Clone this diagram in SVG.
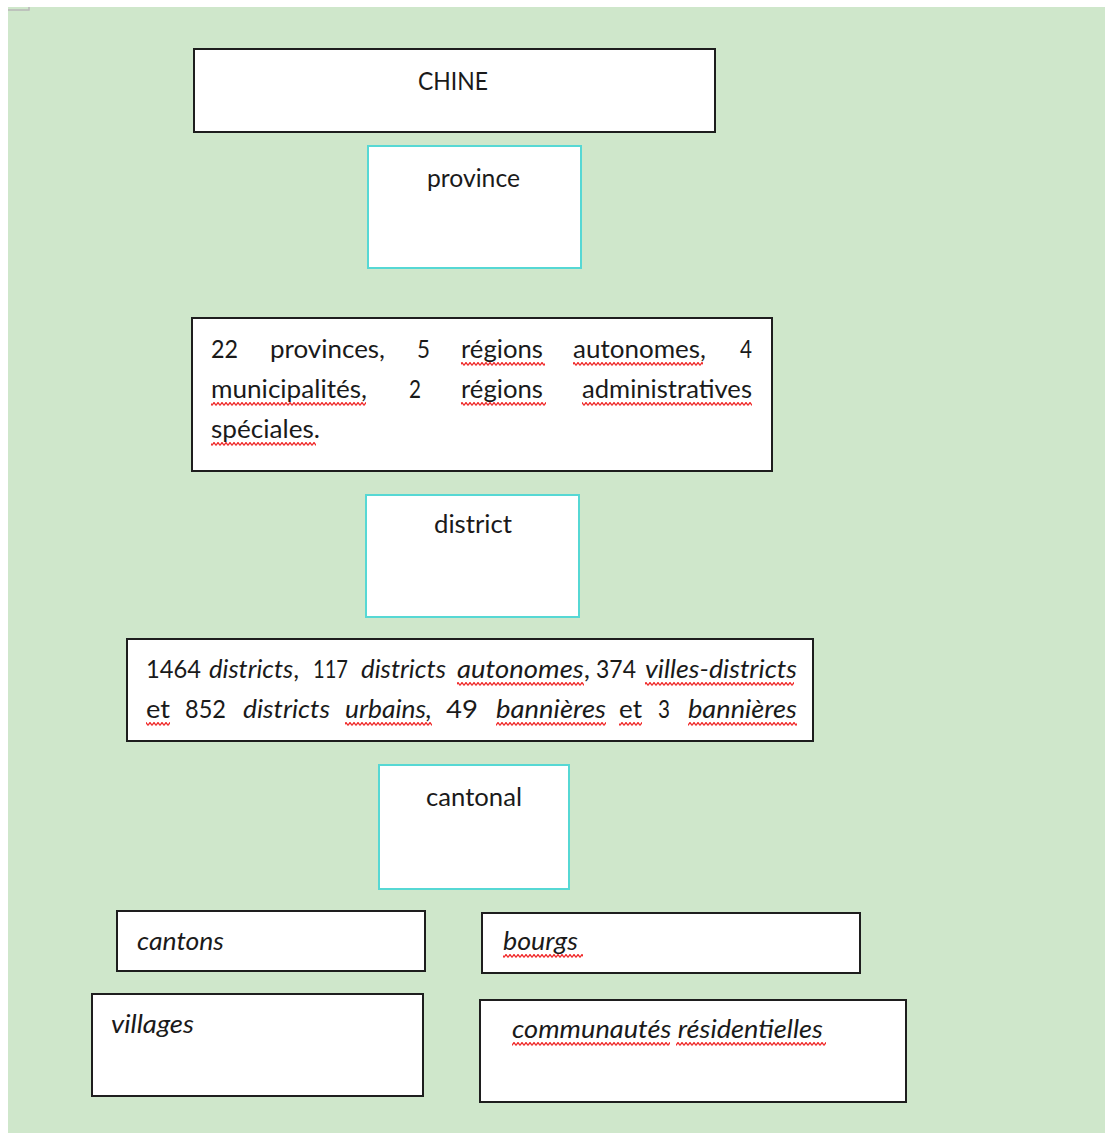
<svg xmlns="http://www.w3.org/2000/svg" width="1105" height="1133" viewBox="0 0 1105 1133">
<style>
.bg{fill:#cfe7cb}
.box{fill:#ffffff;stroke:#1e1e1e;stroke-width:2}
.cyan{fill:#ffffff;stroke:#56d8d4;stroke-width:2}
text{font-family:Lato,"Open Sans","Liberation Sans",sans-serif;font-size:25px;fill:#1a1a1a}
.it{font-style:italic}
.wave{fill:url(#wave)}
</style>
<defs>
<pattern id="wave" patternUnits="userSpaceOnUse" x="0" y="2" width="4" height="4">
<path d="M0,3.5 L2,0.5 L4,3.5" fill="none" stroke="#f02a2a" stroke-width="1.3"/>
</pattern>
</defs>
<rect x="0" y="0" width="1105" height="1133" fill="#ffffff"/>
<rect class="bg" x="8" y="7" width="1097" height="1126"/>
<path d="M8,10 H29 V7" fill="none" stroke="#b8b8b8" stroke-width="1.5"/>

<g id="connectors"></g>

<g id="chine">
<rect class="box" x="194" y="49" width="521" height="83"/>
<text x="418" y="90" textLength="70" lengthAdjust="spacingAndGlyphs">CHINE</text>
</g>

<g id="province">
<rect class="cyan" x="368" y="146" width="213" height="122"/>
<text x="427" y="187" textLength="93" lengthAdjust="spacingAndGlyphs">province</text>
</g>

<g id="provinces-list">
<rect class="box" x="192" y="318" width="580" height="153"/>
<text x="211" y="358" textLength="27" lengthAdjust="spacingAndGlyphs">22</text>
<text x="270" y="358" textLength="115" lengthAdjust="spacingAndGlyphs">provinces,</text>
<text x="417" y="358" textLength="13" lengthAdjust="spacingAndGlyphs">5</text>
<text x="461" y="358" textLength="82" lengthAdjust="spacingAndGlyphs">régions</text>
<text x="573" y="358" textLength="133" lengthAdjust="spacingAndGlyphs">autonomes,</text>
<text x="740" y="358" textLength="12" lengthAdjust="spacingAndGlyphs">4</text>
<text x="211" y="398" textLength="156" lengthAdjust="spacingAndGlyphs">municipalités,</text>
<text x="409" y="398" textLength="12" lengthAdjust="spacingAndGlyphs">2</text>
<text x="461" y="398" textLength="82" lengthAdjust="spacingAndGlyphs">régions</text>
<text x="582" y="398" textLength="170" lengthAdjust="spacingAndGlyphs">administratives</text>
<text x="211" y="438" textLength="109" lengthAdjust="spacingAndGlyphs">spéciales.</text>
<rect class="wave" x="461" y="362" width="84" height="4"/>
<rect class="wave" x="573" y="362" width="130" height="4"/>
<rect class="wave" x="211" y="402" width="155" height="4"/>
<rect class="wave" x="461" y="402" width="85" height="4"/>
<rect class="wave" x="582" y="402" width="170" height="4"/>
<rect class="wave" x="211" y="442" width="105" height="4"/>
</g>

<g id="district">
<rect class="cyan" x="366" y="495" width="213" height="122"/>
<text x="434" y="533" textLength="78" lengthAdjust="spacingAndGlyphs">district</text>
</g>

<g id="districts-list">
<rect class="box" x="127" y="639" width="686" height="102"/>
<text x="146" y="678" textLength="55" lengthAdjust="spacingAndGlyphs">1464</text>
<text x="209" y="678" textLength="90" lengthAdjust="spacingAndGlyphs"><tspan class="it">districts</tspan>,</text>
<text x="313" y="678" textLength="35" lengthAdjust="spacingAndGlyphs">117</text>
<text class="it" x="361" y="678" textLength="85" lengthAdjust="spacingAndGlyphs">districts</text>
<text x="457" y="678" textLength="133" lengthAdjust="spacingAndGlyphs"><tspan class="it">autonomes</tspan>,</text>
<text x="596" y="678" textLength="40" lengthAdjust="spacingAndGlyphs">374</text>
<text class="it" x="645" y="678" textLength="152" lengthAdjust="spacingAndGlyphs">villes-districts</text>
<text x="146" y="718" textLength="24" lengthAdjust="spacingAndGlyphs">et</text>
<text x="185" y="718" textLength="41" lengthAdjust="spacingAndGlyphs">852</text>
<text class="it" x="243" y="718" textLength="87" lengthAdjust="spacingAndGlyphs">districts</text>
<text class="it" x="345" y="718" textLength="87" lengthAdjust="spacingAndGlyphs">urbains,</text>
<text x="446" y="718" textLength="32" lengthAdjust="spacingAndGlyphs">49</text>
<text class="it" x="496" y="718" textLength="110" lengthAdjust="spacingAndGlyphs">bannières</text>
<text x="619" y="718" textLength="23" lengthAdjust="spacingAndGlyphs">et</text>
<text x="658" y="718" textLength="12" lengthAdjust="spacingAndGlyphs">3</text>
<text class="it" x="688" y="718" textLength="109" lengthAdjust="spacingAndGlyphs">bannières</text>
<rect class="wave" x="457" y="682" width="127" height="4"/>
<rect class="wave" x="645" y="682" width="149" height="4"/>
<rect class="wave" x="146" y="722" width="24" height="4"/>
<rect class="wave" x="345" y="722" width="87" height="4"/>
<rect class="wave" x="496" y="722" width="110" height="4"/>
<rect class="wave" x="619" y="722" width="23" height="4"/>
<rect class="wave" x="688" y="722" width="109" height="4"/>
</g>

<g id="cantonal">
<rect class="cyan" x="379" y="765" width="190" height="124"/>
<text x="426" y="806" textLength="96" lengthAdjust="spacingAndGlyphs">cantonal</text>
</g>

<g id="cantons">
<rect class="box" x="117" y="911" width="308" height="60"/>
<text class="it" x="137" y="950" textLength="87" lengthAdjust="spacingAndGlyphs">cantons</text>
</g>

<g id="bourgs">
<rect class="box" x="482" y="913" width="378" height="60"/>
<text class="it" x="503" y="950" textLength="75" lengthAdjust="spacingAndGlyphs">bourgs</text>
<rect class="wave" x="503" y="954" width="80" height="4"/>
</g>

<g id="villages">
<rect class="box" x="92" y="994" width="331" height="102"/>
<text class="it" x="111" y="1033" textLength="83" lengthAdjust="spacingAndGlyphs">villages</text>
</g>

<g id="communautes">
<rect class="box" x="480" y="1000" width="426" height="102"/>
<text class="it" x="512" y="1038" textLength="311" lengthAdjust="spacingAndGlyphs">communautés résidentielles</text>
<rect class="wave" x="512" y="1042" width="158" height="4"/>
<rect class="wave" x="676" y="1042" width="150" height="4"/>
</g>
</svg>
